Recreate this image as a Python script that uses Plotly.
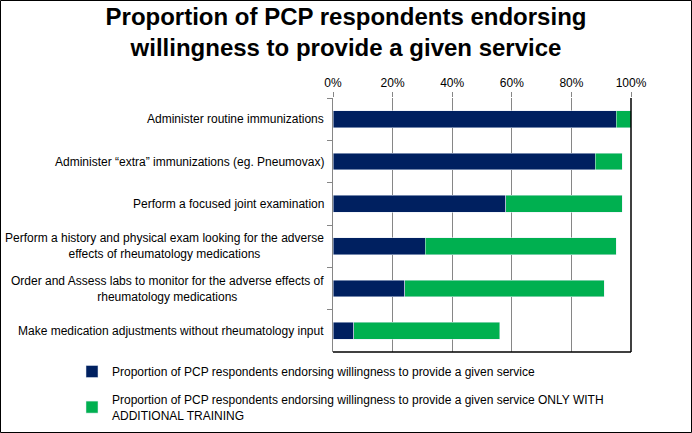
import plotly.graph_objects as go

# --- data ---
services = [
    "Administer routine immunizations",
    "Administer \u201cextra\u201d immunizations (eg. Pneumovax)",
    "Perform a focused joint examination",
    "Perform a history and physical exam looking for the adverse<br>effects of rheumatology medications",
    "Order and Assess labs to monitor for the adverse effects of<br>rheumatology medications",
    "Make medication adjustments without rheumatology input",
]
willing = [0.95, 0.88, 0.58, 0.31, 0.24, 0.07]
willing_with_training = [0.05, 0.09, 0.39, 0.64, 0.67, 0.49]

series_names = [
    "Proportion of PCP respondents endorsing willingness to provide a given service",
    "Proportion of PCP respondents endorsing willingness to provide a given service ONLY WITH<br>ADDITIONAL TRAINING",
]
x_ticks = [0, 0.2, 0.4, 0.6, 0.8, 1.0]
x_tick_labels = ["0%", "20%", "40%", "60%", "80%", "100%"]

FONT = "Liberation Sans, Arial, sans-serif"
W, H = 692, 433
ML, MR, MT, MB = 333, 61, 98, 81
PW, PH = W - ML - MR, H - MT - MB

fig = go.Figure()
fig.add_trace(go.Bar(y=services, x=willing, name=series_names[0], legendgroup="a",
                     orientation="h", marker_color="#002060"))
fig.add_trace(go.Bar(y=services, x=willing_with_training, name=series_names[1], legendgroup="b",
                     orientation="h", marker_color="#00B050"))

# category labels (centred multi-line, right-aligned block like the original)
annotations = []
for s in services:
    annotations.append(dict(
        x=-7 / PW, xref="paper", y=s, yref="y", text=s,
        xanchor="right", yanchor="middle", align="center", showarrow=False,
        font=dict(family=FONT, size=12, color="#000000"),
    ))

fig.update_layout(
    width=W, height=H,
    margin=dict(l=ML, r=MR, t=MT, b=MB, autoexpand=False),
    paper_bgcolor="white", plot_bgcolor="white",
    barmode="stack", bargap=0.6,
    title=dict(
        text="<b>Proportion of PCP respondents endorsing<br>willingness to provide a given service</b>",
        x=0.5, xanchor="center", y=1 - 25 / H, yanchor="top",
        font=dict(family=FONT, size=24, color="#000000"),
    ),
    xaxis=dict(
        side="top", range=[0, 1], tickvals=x_ticks, ticktext=x_tick_labels,
        showgrid=True, gridcolor="#868686", gridwidth=1,
        ticks="outside", ticklen=5, tickcolor="#868686",
        zeroline=False, showline=False,
        tickfont=dict(family=FONT, size=12, color="#000000"),
    ),
    yaxis=dict(
        autorange="reversed", showticklabels=False,
        tickson="boundaries", ticks="outside", ticklen=5, tickcolor="#868686",
        showline=True, linecolor="#868686", linewidth=1, showgrid=False,
    ),
    legend=dict(
        x=(72 - ML) / PW, xanchor="left", y=-5 / PH, yanchor="top",
        traceorder="grouped", orientation="v", tracegroupgap=9,
        font=dict(family=FONT, size=12, color="#000000"),
        bgcolor="rgba(0,0,0,0)",
    ),
    annotations=annotations,
    shapes=[
        # right and bottom frame of the plot area
        dict(type="line", xref="x domain", yref="y domain", x0=1, x1=1, y0=0, y1=1,
             line=dict(color="#000000", width=1.5)),
        dict(type="line", xref="x domain", yref="y domain", x0=0, x1=1, y0=0, y1=0,
             line=dict(color="#000000", width=1.5)),
        # outer border of the picture
        dict(type="rect", xref="paper", yref="paper",
             x0=-(ML - 0.5) / PW, x1=1 + (MR - 0.5) / PW,
             y0=-(MB - 0.5) / PH, y1=1 + (MT - 0.5) / PH,
             line=dict(color="#000000", width=1)),
    ],
)

fig.write_html("out.html", config={"displayModeBar": False},
               post_script="document.body.style.margin='0';")
